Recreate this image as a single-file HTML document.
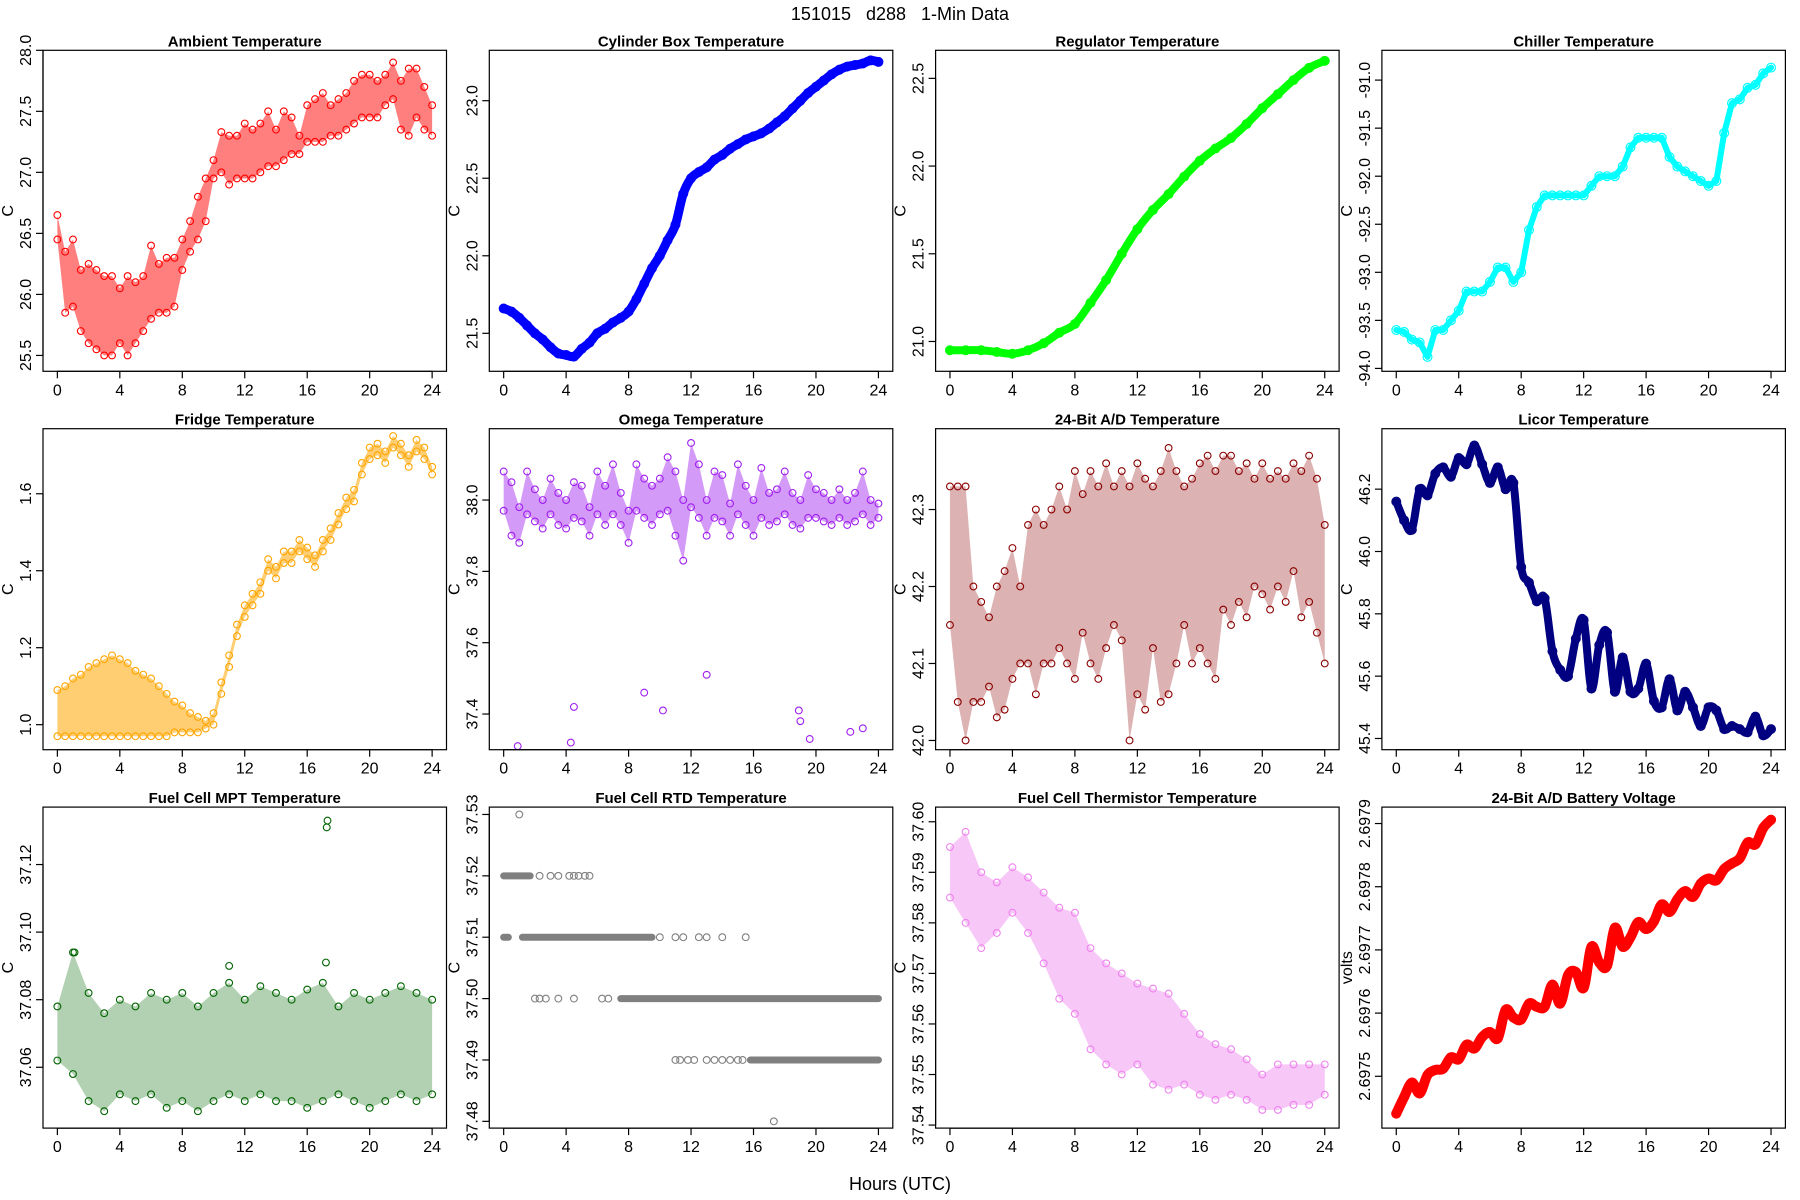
<!DOCTYPE html>
<html><head><meta charset="utf-8"><title>151015 d288 1-Min Data</title>
<style>html,body{margin:0;padding:0;background:#fff}svg{display:block}text{font-family:"Liberation Sans",sans-serif;fill:#000}</style>
</head><body>
<svg id="fig" xmlns="http://www.w3.org/2000/svg" width="1800" height="1200" viewBox="0 0 1800 1200">
<rect x="0" y="0" width="1800" height="1200" fill="#fff"/>
<text x="900" y="20" font-size="18" text-anchor="middle" xml:space="preserve">151015   d288   1-Min Data</text>
<text x="900" y="1190" font-size="18" text-anchor="middle">Hours (UTC)</text>
</svg>
<script>
const halfHours = [0,0.5,1,1.5,2,2.5,3,3.5,4,4.5,5,5.5,6,6.5,7,7.5,8,8.5,9,9.5,10,10.5,11,11.5,12,12.5,13,13.5,14,14.5,15,15.5,16,16.5,17,17.5,18,18.5,19,19.5,20,20.5,21,21.5,22,22.5,23,23.5,24];
const hours = [0,1,2,3,4,5,6,7,8,9,10,11,12,13,14,15,16,17,18,19,20,21,22,23,24];
const xTicks = [0,4,8,12,16,20,24];
const xTickLabels = ["0","4","8","12","16","20","24"];

const ambientHi = [26.65,26.35,26.45,26.2,26.25,26.2,26.15,26.15,26.05,26.15,26.1,26.15,26.4,26.25,26.3,26.3,26.45,26.6,26.8,26.95,27.1,27.33,27.3,27.3,27.4,27.35,27.4,27.5,27.35,27.5,27.45,27.3,27.55,27.6,27.65,27.55,27.6,27.65,27.75,27.8,27.8,27.75,27.8,27.9,27.75,27.85,27.85,27.7,27.55];
const ambientLo = [26.45,25.85,25.9,25.7,25.6,25.55,25.5,25.5,25.6,25.5,25.6,25.7,25.8,25.85,25.85,25.9,26.2,26.35,26.45,26.6,26.95,27.0,26.9,26.95,26.95,26.95,27.0,27.05,27.05,27.1,27.15,27.15,27.25,27.25,27.25,27.3,27.3,27.35,27.4,27.45,27.45,27.45,27.55,27.6,27.35,27.3,27.45,27.35,27.3];
const cylinder = [21.66,21.64,21.6,21.55,21.5,21.46,21.41,21.37,21.36,21.35,21.4,21.44,21.5,21.53,21.57,21.6,21.64,21.72,21.82,21.92,22.0,22.1,22.2,22.4,22.5,22.54,22.57,22.62,22.65,22.69,22.72,22.75,22.77,22.79,22.82,22.86,22.9,22.95,23.0,23.05,23.09,23.13,23.17,23.2,23.22,23.23,23.24,23.26,23.25];
const regulator = [20.95,20.95,20.95,20.94,20.93,20.95,20.99,21.05,21.1,21.22,21.35,21.5,21.64,21.75,21.84,21.94,22.03,22.1,22.16,22.24,22.33,22.41,22.49,22.56,22.6];
const chiller = [-93.6,-93.62,-93.7,-93.73,-93.88,-93.6,-93.6,-93.5,-93.4,-93.2,-93.2,-93.2,-93.1,-92.95,-92.95,-93.1,-93.0,-92.56,-92.32,-92.2,-92.2,-92.2,-92.2,-92.2,-92.2,-92.1,-92.0,-92.0,-92.0,-91.9,-91.7,-91.6,-91.6,-91.6,-91.6,-91.8,-91.9,-91.95,-92.0,-92.05,-92.1,-92.05,-91.55,-91.24,-91.2,-91.08,-91.05,-90.93,-90.87];
const fridgeHi = [1.09,1.1,1.12,1.13,1.15,1.16,1.17,1.18,1.17,1.16,1.14,1.13,1.12,1.1,1.08,1.06,1.05,1.03,1.02,1.01,1.03,1.11,1.18,1.26,1.31,1.34,1.37,1.43,1.41,1.45,1.45,1.48,1.46,1.44,1.48,1.51,1.55,1.59,1.61,1.68,1.72,1.73,1.71,1.75,1.73,1.7,1.74,1.72,1.67];
const fridgeLo = [0.97,0.97,0.97,0.97,0.97,0.97,0.97,0.97,0.97,0.97,0.97,0.97,0.97,0.97,0.97,0.98,0.98,0.98,0.98,0.99,1.0,1.08,1.15,1.23,1.28,1.31,1.34,1.4,1.38,1.42,1.42,1.45,1.43,1.41,1.45,1.48,1.52,1.56,1.58,1.65,1.69,1.7,1.68,1.72,1.7,1.67,1.71,1.69,1.65];
const omegaHi = [38.08,38.05,37.98,38.08,38.03,38.0,38.06,38.02,38.0,38.05,38.04,37.98,38.08,38.04,38.1,38.02,37.97,38.1,38.06,38.04,38.06,38.12,38.08,38.0,38.16,38.1,38.0,38.08,38.07,37.99,38.1,38.04,38.0,38.09,38.02,38.03,38.08,38.02,38.0,38.07,38.03,38.02,38.0,38.03,38.0,38.02,38.08,38.0,37.99];
const omegaLo = [37.97,37.9,37.88,37.96,37.94,37.92,37.96,37.93,37.92,37.95,37.94,37.9,37.96,37.93,37.96,37.93,37.88,37.97,37.95,37.93,37.96,37.97,37.9,37.83,37.98,37.95,37.9,37.95,37.94,37.9,37.96,37.93,37.9,37.95,37.93,37.94,37.96,37.93,37.92,37.95,37.95,37.94,37.93,37.95,37.93,37.94,37.96,37.93,37.95];
const omegaOutX = [0.9,4.3,4.5,9.0,10.2,13.0,18.9,19.0,19.6,22.2,23.0];
const omegaOutV = [37.31,37.32,37.42,37.46,37.41,37.51,37.41,37.38,37.33,37.35,37.36];
const adTempHi = [42.33,42.33,42.33,42.2,42.18,42.16,42.2,42.22,42.25,42.2,42.28,42.3,42.28,42.3,42.33,42.3,42.35,42.32,42.35,42.33,42.36,42.33,42.35,42.33,42.36,42.34,42.33,42.35,42.38,42.35,42.33,42.34,42.36,42.37,42.35,42.37,42.37,42.35,42.36,42.34,42.36,42.34,42.35,42.34,42.36,42.35,42.37,42.34,42.28];
const adTempLo = [42.15,42.05,42.0,42.05,42.05,42.07,42.03,42.04,42.08,42.1,42.1,42.06,42.1,42.1,42.12,42.1,42.08,42.14,42.1,42.08,42.12,42.15,42.13,42.0,42.06,42.04,42.12,42.05,42.06,42.1,42.15,42.1,42.12,42.1,42.08,42.17,42.15,42.18,42.16,42.2,42.19,42.17,42.2,42.18,42.22,42.16,42.18,42.14,42.1];
const licor = [46.16,46.1,46.07,46.2,46.18,46.25,46.27,46.24,46.3,46.28,46.34,46.28,46.22,46.27,46.2,46.22,45.95,45.9,45.84,45.85,45.68,45.62,45.6,45.72,45.78,45.56,45.7,45.74,45.55,45.66,45.55,45.56,45.64,45.52,45.5,45.59,45.49,45.55,45.5,45.44,45.5,45.49,45.43,45.44,45.43,45.42,45.47,45.41,45.43];
const mptHi = [37.078,37.094,37.082,37.076,37.08,37.078,37.082,37.08,37.082,37.078,37.082,37.085,37.08,37.084,37.082,37.08,37.083,37.085,37.078,37.082,37.08,37.082,37.084,37.082,37.08];
const mptLo = [37.062,37.058,37.05,37.047,37.052,37.05,37.052,37.048,37.05,37.047,37.05,37.052,37.05,37.052,37.05,37.05,37.048,37.05,37.052,37.05,37.048,37.05,37.052,37.05,37.052];
const mptOutX = [1.1,11.0,17.2,17.25,17.3];
const mptOutV = [37.094,37.090,37.091,37.131,37.133];
const rtdSegLevel = [37.52,37.51,37.51,37.50,37.49];
const rtdSegStart = [0,0,1.2,7.5,15.8];
const rtdSegEnd = [1.7,0.3,9.5,24,24];
const rtdPtX = [2.3,3.0,3.5,4.2,4.5,4.8,5.2,5.5,10,11,11.5,12.5,13,14,15.5,2.0,2.3,2.7,3.5,4.5,6.3,6.7,11.0,11.3,11.8,12.2,13,13.5,14,14.5,15,15.3,1.0,17.3];
const rtdPtV = [37.52,37.52,37.52,37.52,37.52,37.52,37.52,37.52,37.51,37.51,37.51,37.51,37.51,37.51,37.51,37.50,37.50,37.50,37.50,37.50,37.50,37.50,37.49,37.49,37.49,37.49,37.49,37.49,37.49,37.49,37.49,37.49,37.53,37.48];
const thermHi = [37.595,37.598,37.59,37.588,37.591,37.589,37.586,37.583,37.582,37.575,37.572,37.57,37.568,37.567,37.566,37.562,37.558,37.556,37.555,37.553,37.55,37.552,37.552,37.552,37.552];
const thermLo = [37.585,37.58,37.575,37.578,37.582,37.578,37.572,37.565,37.562,37.555,37.552,37.55,37.552,37.548,37.547,37.548,37.546,37.545,37.546,37.545,37.543,37.543,37.544,37.544,37.546];
const battery = [2.697441,2.697467,2.69749,2.697473,2.697502,2.69751,2.697512,2.69753,2.697527,2.69755,2.697544,2.697562,2.69757,2.69756,2.697605,2.697593,2.69759,2.697615,2.69761,2.69761,2.697645,2.697615,2.69766,2.697665,2.69764,2.697705,2.69768,2.697675,2.697735,2.697705,2.69772,2.697744,2.697733,2.697745,2.697772,2.69776,2.69778,2.697793,2.697784,2.697805,2.697813,2.69781,2.697828,2.697837,2.697845,2.69787,2.697867,2.697893,2.697906];

const panels = [
 {name:"ambient",title:"Ambient Temperature",ylab:"C",yMin:25.37,yMax:28.0,ticks:[25.5,26,26.5,27,27.5,28],labels:["25.5","26.0","26.5","27.0","27.5","28.0"],color:"#ff0000",type:"band",x:halfHours,hi:ambientHi,lo:ambientLo,op:0.5},
 {name:"cylinder-box",title:"Cylinder Box Temperature",ylab:"C",yMin:21.255,yMax:23.325,ticks:[21.5,22,22.5,23],labels:["21.5","22.0","22.5","23.0"],color:"#0000ff",type:"line",x:halfHours,v:cylinder,sw:9,smooth:true},
 {name:"regulator",title:"Regulator Temperature",ylab:"C",yMin:20.83,yMax:22.66,ticks:[21,21.5,22,22.5],labels:["21.0","21.5","22.0","22.5"],color:"#00ff00",type:"line",x:hours,v:regulator,sw:8,smooth:true},
 {name:"chiller",title:"Chiller Temperature",ylab:"C",yMin:-94.03,yMax:-90.69,ticks:[-94,-93.5,-93,-92.5,-92,-91.5,-91],labels:["-94.0","-93.5","-93.0","-92.5","-92.0","-91.5","-91.0"],color:"#00ffff",type:"line",x:halfHours,v:chiller,sw:6,smooth:false},
 {name:"fridge",title:"Fridge Temperature",ylab:"C",yMin:0.935,yMax:1.769,ticks:[1.0,1.2,1.4,1.6],labels:["1.0","1.2","1.4","1.6"],color:"#ffa500",type:"band",x:halfHours,hi:fridgeHi,lo:fridgeLo,op:0.55},
 {name:"omega",title:"Omega Temperature",ylab:"C",yMin:37.30,yMax:38.20,ticks:[37.4,37.6,37.8,38.0],labels:["37.4","37.6","37.8","38.0"],color:"#a020f0",type:"band",x:halfHours,hi:omegaHi,lo:omegaLo,op:0.45,outX:omegaOutX,outV:omegaOutV},
 {name:"ad-temperature",title:"24-Bit A/D Temperature",ylab:"C",yMin:41.988,yMax:42.405,ticks:[42.0,42.1,42.2,42.3],labels:["42.0","42.1","42.2","42.3"],color:"#8b0000",type:"band",x:halfHours,hi:adTempHi,lo:adTempLo,op:0.3},
 {name:"licor",title:"Licor Temperature",ylab:"C",yMin:45.364,yMax:46.394,ticks:[45.4,45.6,45.8,46.0,46.2],labels:["45.4","45.6","45.8","46.0","46.2"],color:"#000080",type:"line",x:halfHours,v:licor,sw:8,smooth:true},
 {name:"fuel-cell-mpt",title:"Fuel Cell MPT Temperature",ylab:"C",yMin:37.042,yMax:37.137,ticks:[37.06,37.08,37.10,37.12],labels:["37.06","37.08","37.10","37.12"],color:"#006400",type:"band",x:hours,hi:mptHi,lo:mptLo,op:0.3,outX:mptOutX,outV:mptOutV},
 {name:"fuel-cell-rtd",title:"Fuel Cell RTD Temperature",ylab:"C",yMin:37.4789,yMax:37.5312,ticks:[37.48,37.49,37.50,37.51,37.52,37.53],labels:["37.48","37.49","37.50","37.51","37.52","37.53"],color:"#808080",type:"rtd"},
 {name:"fuel-cell-thermistor",title:"Fuel Cell Thermistor Temperature",ylab:"C",yMin:37.5394,yMax:37.6029,ticks:[37.54,37.55,37.56,37.57,37.58,37.59,37.60],labels:["37.54","37.55","37.56","37.57","37.58","37.59","37.60"],color:"#ee82ee",type:"band",x:hours,hi:thermHi,lo:thermLo,op:0.45},
 {name:"battery-voltage",title:"24-Bit A/D Battery Voltage",ylab:"volts",yMin:2.697418,yMax:2.697926,ticks:[2.6975,2.6976,2.6977,2.6978,2.6979],labels:["2.6975","2.6976","2.6977","2.6978","2.6979"],color:"#ff0000",type:"line",x:halfHours,v:battery,sw:10,smooth:true}
];

const NS = "http://www.w3.org/2000/svg";
const svg = document.getElementById("fig");
function mk(tag, attrs, parent){const e=document.createElementNS(NS,tag);for(const k in attrs)e.setAttribute(k,attrs[k]);parent.appendChild(e);return e;}
function smoothPath(pts){
  let d="M"+pts[0][0].toFixed(2)+","+pts[0][1].toFixed(2);
  for(let i=0;i<pts.length-1;i++){
    const p0=pts[Math.max(0,i-1)],p1=pts[i],p2=pts[i+1],p3=pts[Math.min(pts.length-1,i+2)];
    const c1=[p1[0]+(p2[0]-p0[0])/6,p1[1]+(p2[1]-p0[1])/6];
    const c2=[p2[0]-(p3[0]-p1[0])/6,p2[1]-(p3[1]-p1[1])/6];
    d+=" C"+c1[0].toFixed(2)+","+c1[1].toFixed(2)+" "+c2[0].toFixed(2)+","+c2[1].toFixed(2)+" "+p2[0].toFixed(2)+","+p2[1].toFixed(2);
  }
  return d;
}
const XMIN=-0.92, XMAX=24.92, W=403.5, H=321;
panels.forEach((p,i)=>{
  const L=43+(i%4)*446.3, T=50.3+Math.floor(i/4)*378.4;
  const sx=x=>L+(x-XMIN)/(XMAX-XMIN)*W;
  const sy=v=>T+(p.yMax-v)/(p.yMax-p.yMin)*H;
  const g=mk("g",{},svg);
  
  
  const cp=mk("clipPath",{id:"clip"+i},g);
  mk("rect",{x:L,y:T,width:W,height:H},cp);
  const dg=mk("g",{"clip-path":"url(#clip"+i+")"},g);
  
  
  const R=3.4;
  if(p.type==="band"){
    let pts=p.x.map((x,k)=>sx(x).toFixed(2)+","+sy(p.hi[k]).toFixed(2));
    for(let k=p.x.length-1;k>=0;k--)pts.push(sx(p.x[k]).toFixed(2)+","+sy(p.lo[k]).toFixed(2));
    const band=mk("polygon",{points:pts.join(" "),fill:p.color,"fill-opacity":p.op,stroke:"none"},dg);
    
    
    p.x.forEach((x,k)=>{
      const c1=mk("circle",{cx:sx(x),cy:sy(p.hi[k]),r:R,fill:"none",stroke:p.color,"stroke-width":1.1},dg);
      
      
      const c2=mk("circle",{cx:sx(x),cy:sy(p.lo[k]),r:R,fill:"none",stroke:p.color,"stroke-width":1.1},dg);
      
      
    });
  } else if(p.type==="line"){
    const pts=p.x.map((x,k)=>[sx(x),sy(p.v[k])]);
    const d=p.smooth?smoothPath(pts):"M"+pts.map(q=>q[0].toFixed(2)+","+q[1].toFixed(2)).join(" L");
    const ln=mk("path",{d:d,fill:"none",stroke:p.color,"stroke-width":p.sw,"stroke-linejoin":"round","stroke-linecap":"round"},dg);
    
    
    p.x.forEach((x,k)=>{
      const c=mk("circle",{cx:sx(x),cy:sy(p.v[k]),r:R+1,fill:"none",stroke:p.color,"stroke-width":1.2},dg);
      
      
    });
  } else if(p.type==="rtd"){
    rtdSegLevel.forEach((lv,k)=>{
      const s=mk("line",{x1:sx(rtdSegStart[k]),x2:sx(rtdSegEnd[k]),y1:sy(lv),y2:sy(lv),stroke:p.color,"stroke-width":7,"stroke-linecap":"round"},dg);
      
      
    });
    rtdPtX.forEach((x,k)=>{
      const c=mk("circle",{cx:sx(x),cy:sy(rtdPtV[k]),r:R,fill:"none",stroke:p.color,"stroke-width":1.1},dg);
      
      
    });
  }
  if(p.outX){
    p.outX.forEach((x,k)=>{
      const c=mk("circle",{cx:sx(x),cy:sy(p.outV[k]),r:R,fill:"none",stroke:p.color,"stroke-width":1.1},dg);
      
      
    });
  }
  const box=mk("rect",{x:L,y:T,width:W,height:H,fill:"none",stroke:"#000","stroke-width":1.2},g);
  
  
  const title=mk("text",{x:L+W/2,y:T-4,"font-size":15,"font-weight":"bold","text-anchor":"middle"},g);
  title.textContent=p.title;
  
  
  const xa=mk("line",{x1:sx(xTicks[0]),x2:sx(xTicks[xTicks.length-1]),y1:T+H,y2:T+H,stroke:"#000","stroke-width":1.2},g);
  
  
  xTicks.forEach((t,k)=>{
    mk("line",{x1:sx(t),x2:sx(t),y1:T+H,y2:T+H+7,stroke:"#000","stroke-width":1.2},g);
    const tl=mk("text",{x:sx(t),y:T+H+24,"font-size":16,"text-anchor":"middle"},g);
    tl.textContent=xTickLabels[k];
    
    
  });
  const ya=mk("line",{x1:L,x2:L,y1:sy(p.ticks[0]),y2:sy(p.ticks[p.ticks.length-1]),stroke:"#000","stroke-width":1.2},g);
  
  
  p.ticks.forEach((t,k)=>{
    mk("line",{x1:L-7,x2:L,y1:sy(t),y2:sy(t),stroke:"#000","stroke-width":1.2},g);
    const ty=sy(t);
    const tl=mk("text",{x:L-12,y:ty,"font-size":16,"text-anchor":"middle",transform:"rotate(-90 "+(L-12)+" "+ty+")"},g);
    tl.textContent=p.labels[k];
    
    
  });
  const yc=T+H/2;
  const yl=mk("text",{x:L-30,y:yc,"font-size":16,"text-anchor":"middle",transform:"rotate(-90 "+(L-30)+" "+yc+")"},g);
  yl.textContent=p.ylab;
  
  
});
</script>
</body></html>
